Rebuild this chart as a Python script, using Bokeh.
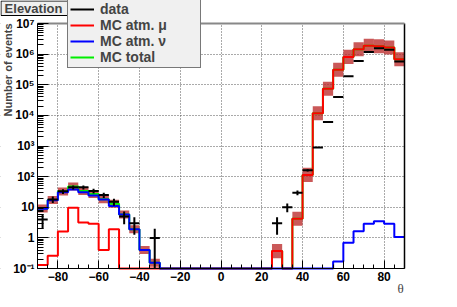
import numpy as np
from bokeh.plotting import figure
from bokeh.models import Range1d, FixedTicker, Legend, LegendItem, Label, BoxAnnotation
from bokeh.embed import file_html
from bokeh.resources import INLINE

# ---- data (36 bins of 5 degrees, -90..90) ----
bin_edges = list(range(-90, 95, 5))
mc_nu = [9, 17, 31, 38, 31, 24, 18, 11, 5.8, 1.9, 0.4, 0.155,
         0, 0, 0, 0, 0, 0, 0, 0, 0, 0, 0, 0, 0, 0, 0, 0, 0,
         0.17, 0.69, 1.66, 2.9, 3.5, 2.9, 1.07]
mc_mu = [0.13, 0.26, 1.6, 9.7, 3.2, 2.9, 0.4, 1.9, 0, 0, 0, 0,
         0, 0, 0, 0, 0, 0, 0, 0, 0, 0, 0,
         0.37, 0, 4.2, 114, 1.17e4, 7.4e4, 3.1e5, 8.1e5, 1.44e6, 1.87e6, 1.8e6, 1.65e6, 6.8e5]
data_counts = [4, 18, 33, 45, 45, 34, 25, 15, 5, 3, 0, 1,
               0, 0, 0, 0, 0, 0, 0, 0, 0, 0, 0,
               3, 10, 30, 160, 900, 6100, 4.0e4, 1.9e5, 6.0e5, 1.18e6, 1.55e6, 1.4e6, 5.7e5]
sys_factor_up = 1.35     # band for upgoing (theta<0)
sys_factor_down = 1.7    # band for downgoing (theta>0)

x_ticks = [-80, -60, -40, -20, 0, 20, 40, 60, 80]
x_tick_labels = ["\u221280", "\u221260", "\u221240", "\u221220", "0", "20", "40", "60", "80"]
y_ticks = [0.1, 1, 10, 100, 1e3, 1e4, 1e5, 1e6, 1e7]
y_tick_labels = ["10\u207b\u00b9", "1", "10", "10\u00b2", "10\u00b3", "10\u2074", "10\u2075", "10\u2076", "10\u2077"]

# ---- layout (pixels) ----
W, H = 449, 299
FR_L, FR_R, FR_T, FR_B = 37, 404, 23, 268     # plot-box edges inside the canvas
XMIN, XMAX = -90.0, 90.0
YMIN, YMAX = 0.1, 1e7
ppx = (FR_R - FR_L) / (XMAX - XMIN)
ppd = (FR_B - FR_T) / np.log10(YMAX / YMIN)
x_lo = XMIN - FR_L / ppx
x_hi = XMAX + (W - FR_R) / ppx
y_lo = YMIN * 10 ** (-(H - FR_B) / ppd)
y_hi = YMAX * 10 ** (FR_T / ppd)

edges = np.array(bin_edges, dtype=float)
nu = np.array(mc_nu, dtype=float)
mu = np.array(mc_mu, dtype=float)
tot = nu + mu
dat = np.array(data_counts, dtype=float)
centers = 0.5 * (edges[:-1] + edges[1:])


def step_xy(vals):
    xs, ys = [], []
    v = np.where(vals > 0, vals, YMIN)
    for i in range(len(v)):
        xs += [edges[i], edges[i + 1]]
        ys += [v[i], v[i]]
    return xs, ys


FONT = "Liberation Sans"

p = figure(width=W, height=H, x_range=Range1d(x_lo, x_hi), y_range=Range1d(y_lo, y_hi),
           y_axis_type="log", output_backend="svg", toolbar_location=None, min_border=0)
p.outline_line_color = None

# grids
for g in (p.xgrid, p.ygrid):
    g.grid_line_color = "#555555"
    g.grid_line_dash = "1 2"
    g.grid_line_width = 1

# white covers so the grid stays inside the plot box
for kw in (dict(bottom=YMAX), dict(top=YMIN), dict(right=XMIN), dict(left=XMAX)):
    p.add_layout(BoxAnnotation(fill_color="white", fill_alpha=1.0, line_color=None,
                               level="underlay", **kw))

# axes, pinned at the plot-box edges
p.xaxis.fixed_location = YMIN
p.yaxis.fixed_location = XMIN
p.xaxis.bounds = (XMIN, XMAX)
p.yaxis.bounds = (YMIN, YMAX)
p.xaxis.ticker = FixedTicker(ticks=x_ticks, minor_ticks=list(range(-90, 91, 5)))
p.xaxis.major_label_overrides = {t: l for t, l in zip(x_ticks, x_tick_labels)}
minor_y = [m * 10.0 ** d for d in range(-1, 7) for m in range(2, 10)]
p.yaxis.ticker = FixedTicker(ticks=y_ticks, minor_ticks=minor_y)
p.yaxis.major_label_overrides = {t: l for t, l in zip(y_ticks, y_tick_labels)}
for ax, maj, mnr in ((p.xaxis, 8, 4), (p.yaxis, 11, 6)):
    ax.major_tick_in = maj
    ax.major_tick_out = 0
    ax.minor_tick_in = mnr
    ax.minor_tick_out = 0
    ax.axis_line_color = "black"
    ax.major_tick_line_color = "black"
    ax.minor_tick_line_color = "black"
    ax.major_label_text_font = FONT
    ax.major_label_text_font_style = "bold"
    ax.major_label_text_font_size = "12px"
    ax.major_label_text_color = "black"
    ax.major_label_standoff = 3

# systematic boxes
m = tot > 0
p.quad(left=edges[:-1][m], right=edges[1:][m],
       bottom=np.maximum(np.where(centers[m] < 0, tot[m] / sys_factor_up, tot[m] / sys_factor_down), YMIN),
       top=np.where(centers[m] < 0, tot[m] * sys_factor_up, tot[m] * sys_factor_down),
       fill_color="#bb2a2a", fill_alpha=0.78, line_color=None)

# histograms
xs, ys = step_xy(tot)
r_tot = p.line(xs, ys, line_color="#00ee00", line_width=2)
xs, ys = step_xy(mu)
r_mu = p.line(xs, ys, line_color="#ff0000", line_width=2)
xs, ys = step_xy(nu)
r_nu = p.line(xs, ys, line_color="#0000ff", line_width=2)

# data crosses
d = dat > 0
err = np.sqrt(dat[d])
r_dat = p.segment(x0=centers[d], x1=centers[d], y0=np.maximum(dat[d] - err, YMIN), y1=dat[d] + err,
                  line_color="black", line_width=2)
p.segment(x0=edges[:-1][d], x1=edges[1:][d], y0=dat[d], y1=dat[d], line_color="black", line_width=2)

# right and top edges of the plot box
p.segment(x0=[XMAX], x1=[XMAX], y0=[YMIN], y1=[YMAX], line_color="black", line_width=1.5)
p.segment(x0=[XMIN], x1=[XMAX], y0=[YMAX], y1=[YMAX], line_color="#888888", line_width=2)

# legend (top-left corner of canvas area)
legend = Legend(items=[LegendItem(label="data", renderers=[r_dat]),
                       LegendItem(label="MC atm. \u03bc", renderers=[r_mu]),
                       LegendItem(label="MC atm. \u03bd", renderers=[r_nu]),
                       LegendItem(label="MC total", renderers=[r_tot])],
                location=(67, H - 68), orientation="vertical",
                padding=2, spacing=0, margin=0,
                glyph_width=24, glyph_height=16, label_height=16, label_width=98,
                label_standoff=6,
                label_text_font=FONT, label_text_font_style="bold", label_text_font_size="14px",
                border_line_color="black", border_line_width=1,
                background_fill_color="#f0f0f0", background_fill_alpha=1.0)
p.add_layout(legend, "center")

# title box "Elevation"
p.add_layout(BoxAnnotation(left=0.5, right=67, bottom=H - 15, top=H - 0.5,
                           left_units="screen", right_units="screen",
                           top_units="screen", bottom_units="screen",
                           fill_color="#f0f0f0", fill_alpha=1.0,
                           line_color="black", line_width=1, line_alpha=1.0))
p.add_layout(Label(x=33, y=H - 7.5, x_units="screen", y_units="screen", text="Elevation",
                   text_font=FONT, text_font_style="bold", text_font_size="13px",
                   text_align="center", text_baseline="middle"))

# axis titles
p.add_layout(Label(x=7, y=H - FR_T, x_units="screen", y_units="screen", text="Number of events",
                   angle=np.pi / 2, text_font=FONT, text_font_style="bold", text_font_size="11px",
                   text_align="right", text_baseline="middle"))
p.add_layout(Label(x=400, y=H - 288, x_units="screen", y_units="screen", text="\u03b8",
                   text_font="Liberation Serif", text_font_size="13px",
                   text_align="center", text_baseline="middle"))

open("out.html", "w").write(file_html(p, INLINE))
